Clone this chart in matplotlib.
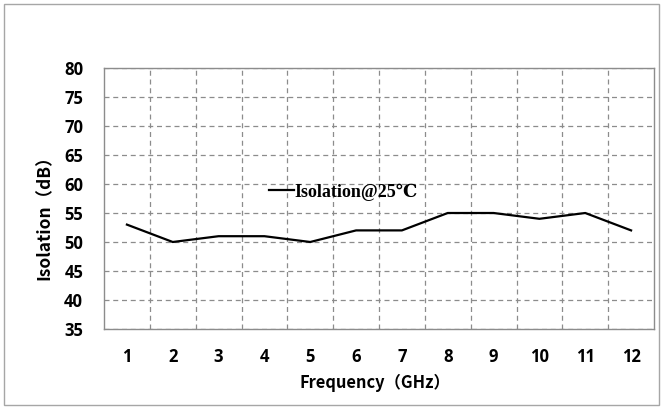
from matplotlib import pyplot as plt
from matplotlib.patches import Rectangle
import numpy as np

# 数据
freq = [1, 2, 3, 4, 5, 6, 7, 8, 9, 10, 11, 12]
isolation = [53, 50, 51, 51, 50, 52, 52, 55, 55, 54, 55, 52]
y_ticks = [35, 40, 45, 50, 55, 60, 65, 70, 75, 80]

fig = plt.figure(figsize=(6.62, 4.08), dpi=100)
ax = fig.add_axes([104 / 662, 1 - 329 / 408, 550 / 662, 261 / 408])

ax.plot(freq, isolation, color='black', linewidth=1.6, label='Isolation@25℃')

ax.set_xlim(0.5, 12.5)
ax.set_ylim(35, 80)
ax.set_xticks(freq)
ax.set_xticks(np.arange(1.5, 12, 1), minor=True)
ax.set_yticks(y_ticks)
ax.tick_params(which='both', length=0)
ax.tick_params(axis='x', pad=14)
ax.tick_params(axis='y', pad=15)
for lab in ax.get_xticklabels() + ax.get_yticklabels():
    lab.set_fontfamily(['Open Sans', 'DejaVu Sans'])
    lab.set_fontweight('bold')
    lab.set_fontsize(12)

ax.grid(which='minor', axis='x', color='#8c8c8c', linestyle=(0, (4, 3)), linewidth=0.9)
ax.grid(which='major', axis='y', color='#8c8c8c', linestyle=(0, (4, 3)), linewidth=0.9)
for sp in ax.spines.values():
    sp.set_color('#8c8c8c')
    sp.set_linewidth(1.0)

lab_font = ['Noto Sans CJK SC', 'DejaVu Sans']
ax.set_xlabel('Frequency（GHz）', family=lab_font, fontsize=11.8, fontweight='bold')
ax.set_ylabel('Isolation（dB）', family=lab_font, fontsize=12.5, fontweight='bold')
ax.xaxis.set_label_coords((375 - 104) / 550, -(383 - 329) / 261)
ax.yaxis.set_label_coords(-(104 - 45) / 550, (329 - 213) / 261)
ax.xaxis.label.set_va('center')
ax.yaxis.label.set_va('center')

leg = ax.legend(loc='center left', bbox_to_anchor=(269 / 662, 1 - 192 / 408),
                bbox_transform=fig.transFigure, frameon=False, borderpad=0,
                borderaxespad=0, handlelength=1.4, handletextpad=0.0,
                prop={'family': ['Liberation Serif', 'DejaVu Serif'], 'weight': 'bold', 'size': 13})

# 外框
fig.patches.append(Rectangle((4 / 662, 3 / 408), 655 / 662, 401 / 408, transform=fig.transFigure,
                             fill=False, edgecolor='#a6a6a6', linewidth=1.0))

fig.savefig('out.png', dpi=100)
